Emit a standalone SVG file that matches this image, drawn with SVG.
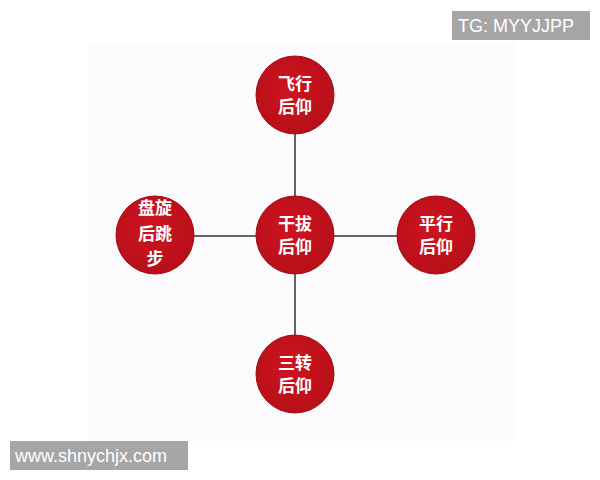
<svg xmlns="http://www.w3.org/2000/svg" width="600" height="480" viewBox="0 0 600 480">
<defs>
<radialGradient id="rg" cx="0.45" cy="0.4" r="0.65">
<stop offset="0" stop-color="#cf1420"/>
<stop offset="1" stop-color="#b50f18"/>
</radialGradient>
</defs>
<style>
.c{fill:url(#rg);stroke:#9e0c14;stroke-width:1}
.t{fill:#fff;font-family:"Noto Sans CJK SC","Noto Sans",sans-serif;font-weight:bold;font-size:17px;text-anchor:middle}
.l{stroke:#333;stroke-width:1.5;fill:none}
.w{fill:#fff;font-family:"Liberation Sans",Arial,sans-serif;font-size:18px}
</style>
<rect width="600" height="480" fill="#fff"/>
<rect x="88" y="43" width="427" height="398" fill="#fbfafc"/>
<g id="connectors">
<line class="l" x1="295" y1="95" x2="295" y2="374"/>
<line class="l" x1="155" y1="236" x2="436" y2="236"/>
</g>
<g id="n-top">
<circle class="c" cx="295" cy="95" r="39"/>
<text class="t" x="295" y="90">飞行</text>
<text class="t" x="295" y="113">后仰</text>
</g>
<g id="n-center">
<circle class="c" cx="295" cy="235" r="39"/>
<text class="t" x="295" y="230">干拔</text>
<text class="t" x="295" y="253">后仰</text>
</g>
<g id="n-right">
<circle class="c" cx="436" cy="235" r="39"/>
<text class="t" x="436" y="230">平行</text>
<text class="t" x="436" y="253">后仰</text>
</g>
<g id="n-left">
<circle class="c" cx="155" cy="235" r="39"/>
<text class="t" x="155" y="214">盘旋</text>
<text class="t" x="155" y="240">后跳</text>
<text class="t" x="155" y="265">步</text>
</g>
<g id="n-bottom">
<circle class="c" cx="295" cy="374" r="39"/>
<text class="t" x="295" y="369">三转</text>
<text class="t" x="295" y="392">后仰</text>
</g>
<g id="wm-top">
<rect x="452" y="11" width="138" height="29" fill="#a6a6a6"/>
<text class="w" x="458" y="32">TG: MYYJJPP</text>
</g>
<g id="wm-bottom">
<rect x="10" y="441" width="178" height="29" fill="#a6a6a6"/>
<text class="w" x="15" y="462">www.shnychjx.com</text>
</g>
</svg>
